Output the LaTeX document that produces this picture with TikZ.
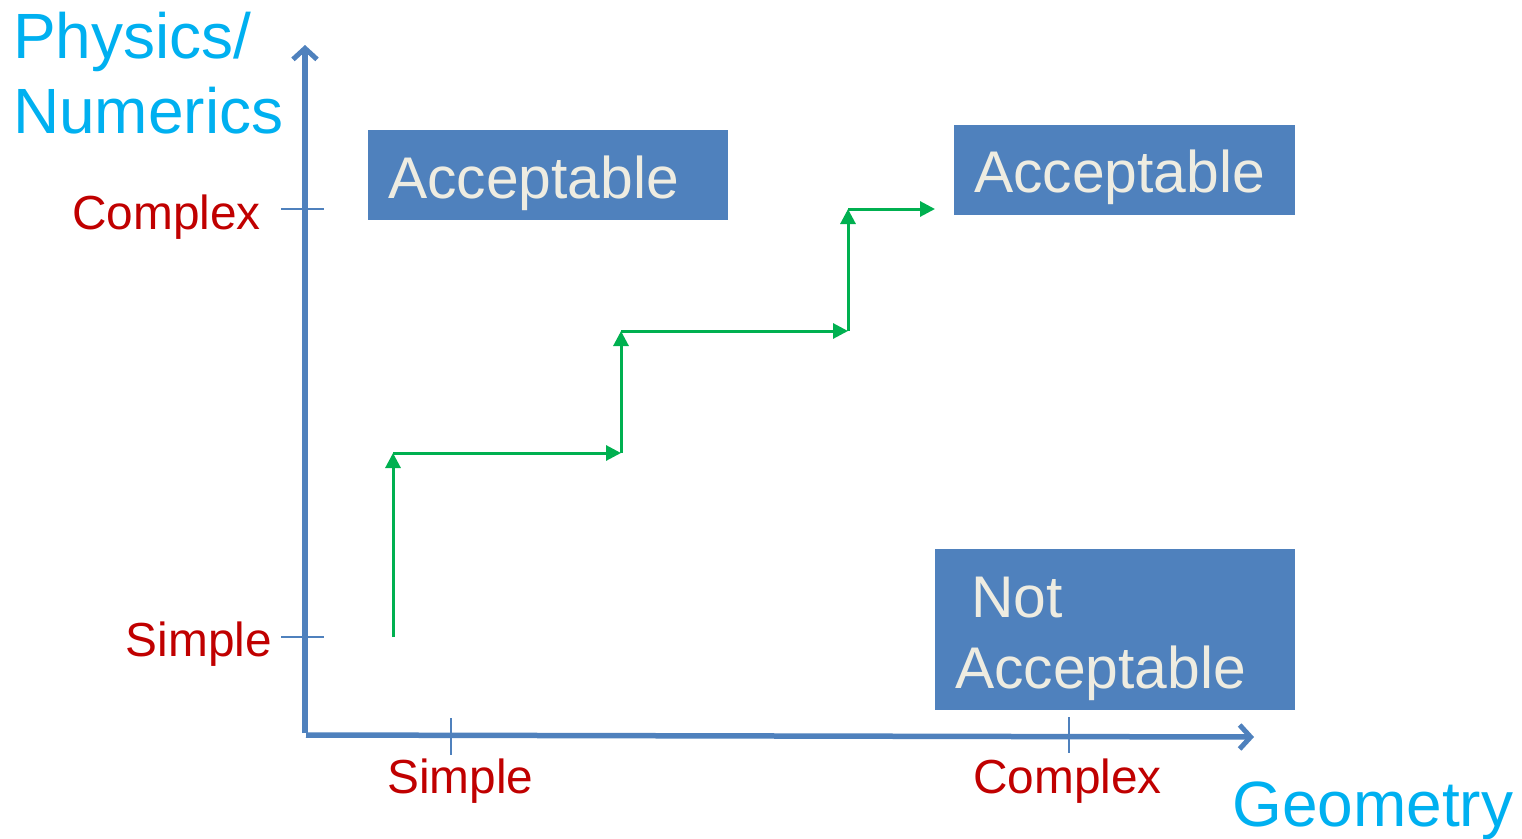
\documentclass[tikz,border=0pt]{standalone}
\usepackage{fontspec}
\setmainfont{Liberation Sans}
\usetikzlibrary{arrows.meta}
\definecolor{axisblue}{HTML}{4F81BD}
\definecolor{boxblue}{HTML}{4F81BD}
\definecolor{boxtext}{HTML}{EEECE1}
\definecolor{labcyan}{HTML}{00B0F0}
\definecolor{labred}{HTML}{C00000}
\definecolor{stepgreen}{HTML}{00B050}
\begin{document}
\begin{tikzpicture}[x=1pt,y=-1pt,
  box/.style={fill=boxblue, draw=none, anchor=north west, inner sep=0pt},
  boxlabel/.style={text=boxtext, anchor=base west, inner sep=0pt, font=\fontsize{58.8}{64}\selectfont},
  bluelabel/.style={text=labcyan, anchor=base west, inner sep=0pt, font=\fontsize{64}{70}\selectfont},
  redlabel/.style={text=labred, inner sep=0pt, font=\fontsize{47.8}{52}\selectfont},
  axisline/.style={draw=axisblue, line width=5.5pt, -{Straight Barb[length=11pt,width=24pt,line width=5pt]}},
  tickline/.style={draw=axisblue, line width=1.8pt},
  greenarrow/.style={draw=stepgreen, line width=3pt, -{Triangle[length=15pt,width=15pt]}},
  greenline/.style={draw=stepgreen, line width=3pt}
]
\useasboundingbox (0,0) rectangle (1522,838);

% axes
\coordinate (origin) at (305,733);
\coordinate (ytop) at (305,45);
\coordinate (xorigin) at (306,735);
\coordinate (xend) at (1254,737);
\draw[axisline] (origin) -- (ytop);
\draw[axisline] (xorigin) -- (xend);

% ticks
\coordinate (tc1) at (281,209); \coordinate (tc2) at (324,209);
\coordinate (ts1) at (281,637); \coordinate (ts2) at (324,637);
\coordinate (tx1a) at (451,718); \coordinate (tx1b) at (451,755);
\coordinate (tx2a) at (1069,717); \coordinate (tx2b) at (1069,753);
\draw[tickline] (tc1) -- (tc2);
\draw[tickline] (ts1) -- (ts2);
\draw[tickline] (tx1a) -- (tx1b);
\draw[tickline] (tx2a) -- (tx2b);

% axis labels
\node[bluelabel] (phys) at (13,58) {Physics/};
\node[bluelabel] (num) at (13,133) {Numerics};
\node[bluelabel] (geo) at (1232,826) {Geometry};
\node[redlabel, anchor=base east] (ycomplex) at (261,229) {Complex};
\node[redlabel, anchor=base east] (ysimple) at (272,656) {Simple};
\node[redlabel, anchor=base west] (xsimple) at (387,793) {Simple};
\node[redlabel, anchor=base west] (xcomplex) at (973,793) {Complex};

% boxes
\node[box, minimum width=360pt, minimum height=90pt] (b1) at (368,130) {};
\node[box, minimum width=341pt, minimum height=90pt] (b2) at (954,125) {};
\node[box, minimum width=360pt, minimum height=161pt] (b3) at (935,549) {};
\node[boxlabel] (t1) at (388,198) {Acceptable};
\node[boxlabel] (t2) at (974,192) {Acceptable};
\node[boxlabel] (t3a) at (971,617) {Not};
\node[boxlabel] (t3b) at (955,688) {Acceptable};

% green staircase
\coordinate (g0) at (393,637);
\coordinate (g1) at (393,453);
\coordinate (g2) at (621,453);
\coordinate (g3) at (621,331);
\coordinate (g4) at (848,331);
\coordinate (g5) at (848,209);
\coordinate (g6) at (935,209);
\draw[greenarrow] (g0) -- (g1);
\draw[greenarrow] (g1) -- (g2);
\draw[greenarrow] (g2) -- (g3);
\draw[greenarrow] (g3) -- (g4);
\draw[greenarrow] (g4) -- (g5);
\draw[greenarrow] (g5) -- (g6);
\end{tikzpicture}
\end{document}
